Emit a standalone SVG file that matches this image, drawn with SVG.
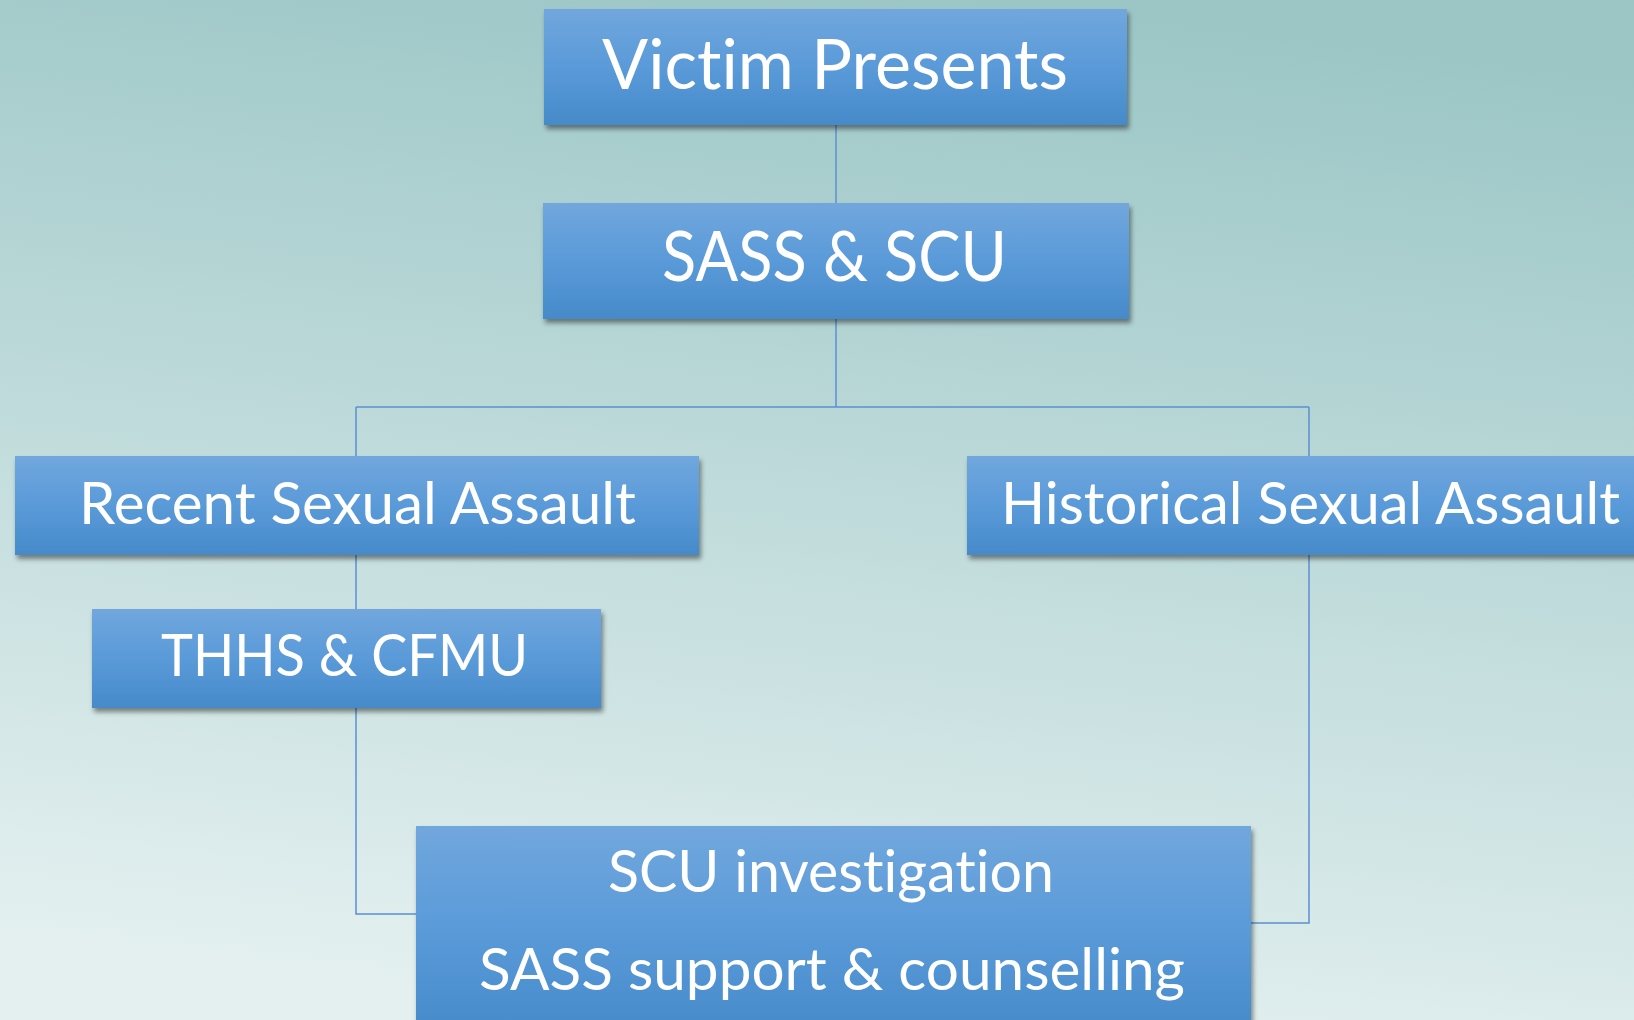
<svg xmlns="http://www.w3.org/2000/svg" width="1634" height="1020" viewBox="0 0 1634 1020">
  <defs>
    <linearGradient id="bg" x1="0.6" y1="0" x2="0.4" y2="1">
      <stop offset="0" stop-color="#9cc6c6"/>
      <stop offset="1" stop-color="#e4f0f0"/>
    </linearGradient>
    <linearGradient id="box" x1="0" y1="0" x2="0" y2="1">
      <stop offset="0" stop-color="#71a7dd"/>
      <stop offset="0.5" stop-color="#5a9ad9"/>
      <stop offset="1" stop-color="#468aca"/>
    </linearGradient>
    <filter id="sh" x="-5%" y="-10%" width="115%" height="130%">
      <feDropShadow dx="2" dy="4" stdDeviation="2.5" flood-color="#000" flood-opacity="0.45"/>
    </filter>
    <style>
      .node rect { fill: url(#box); filter: url(#sh); }
      .node text { font-family: Lato, "Open Sans", "Liberation Sans", sans-serif; fill: #ffffff; text-anchor: middle; font-variant-ligatures: none; font-feature-settings: "liga" 0, "clig" 0; }
      .big { font-size: 69px; }
      .mid { font-size: 58px; }
      .conn { fill: none; stroke: #5b90cf; stroke-width: 1.5; }
    </style>
  </defs>
  <rect x="0" y="0" width="1634" height="1020" fill="url(#bg)"/>
  <g id="connectors">
    <path class="conn" d="M836 125 V203"/>
    <path class="conn" d="M836 319 V407"/>
    <path class="conn" d="M356 407 H1309"/>
    <path class="conn" d="M356 407 V914 H416"/>
    <path class="conn" d="M1309 407 V923 H1251"/>
  </g>
  <g id="victim" class="node">
    <rect x="544" y="9" width="583" height="116"/>
    <text class="big" x="835" y="89" textLength="466" lengthAdjust="spacingAndGlyphs">Victim Presents</text>
  </g>
  <g id="sass-scu" class="node">
    <rect x="543" y="203" width="586" height="116"/>
    <text class="big" x="834.5" y="281" textLength="345" lengthAdjust="spacingAndGlyphs">SASS &amp; SCU</text>
  </g>
  <g id="recent" class="node">
    <rect x="15" y="456" width="684" height="99"/>
    <text class="mid" x="357.5" y="524" textLength="557" lengthAdjust="spacingAndGlyphs">Recent Sexual Assault</text>
  </g>
  <g id="historical" class="node">
    <rect x="967" y="456" width="690" height="99"/>
    <text class="mid" x="1310.5" y="524" textLength="619" lengthAdjust="spacingAndGlyphs">Historical Sexual Assault</text>
  </g>
  <g id="thhs" class="node">
    <rect x="92" y="609" width="509" height="99"/>
    <text class="mid" x="344.5" y="676" textLength="367" lengthAdjust="spacingAndGlyphs">THHS &amp; CFMU</text>
  </g>
  <g id="outcome" class="node">
    <rect x="416" y="826" width="835" height="210"/>
    <text class="mid" x="831" y="892" textLength="446" lengthAdjust="spacingAndGlyphs">SCU investigation</text>
    <text class="mid" x="832" y="990" textLength="706" lengthAdjust="spacingAndGlyphs">SASS support &amp; counselling</text>
  </g>
</svg>
